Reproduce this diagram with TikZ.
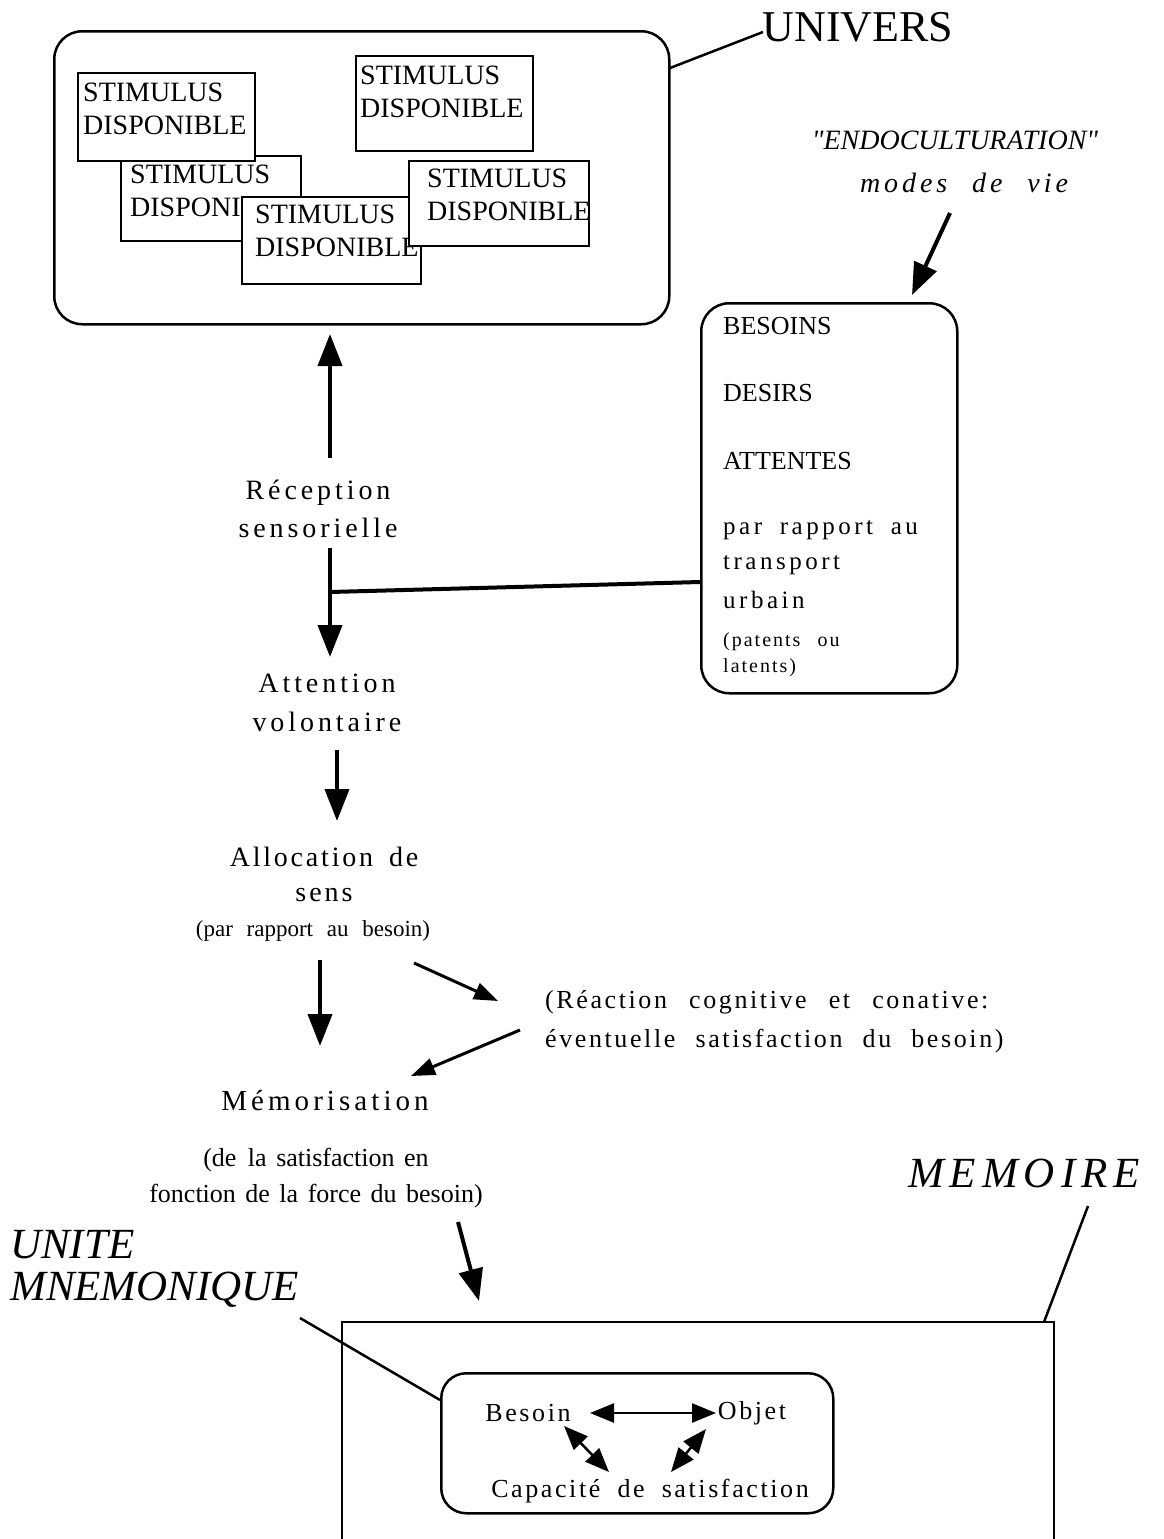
\documentclass[tikz,border=0pt]{standalone}
\usepackage{fontspec}
\setmainfont{Liberation Serif}
\newfontfamily\spc[LetterSpace=10]{Liberation Serif}
\newfontfamily\spcw[LetterSpace=14]{Liberation Serif}
\newfontfamily\qfont[Ligatures=TeXOff]{Liberation Serif}
\usetikzlibrary{arrows.meta}
\tikzset{
  rbox/.style={draw, line width=2.5pt, rounded corners=28pt, anchor=north west, inner sep=0pt},
  stim/.style={draw, fill=white, line width=2pt, anchor=north west, inner sep=0pt},
  stimtxt/.style={anchor=north west, align=left, inner sep=0pt, font=\fontsize{28}{33}\selectfont},
  bigarrow/.style={-{Triangle[length=32pt,width=24pt]}, line width=4pt},
  thinarrow/.style={-{Triangle[length=24pt,width=17pt]}, line width=3pt},
  dblarrow/.style={{Triangle[length=24pt,width=19pt]}-{Triangle[length=24pt,width=19pt]}, line width=2.5pt},
  leader/.style={line width=2.5pt},
  lbl/.style={align=center, inner sep=0pt},
}
\begin{document}
\begin{tikzpicture}[x=1pt,y=-1pt]
\useasboundingbox (0,0) rectangle (1163,1539);
\fill[white] (0,0) rectangle (1163,1539);

% UNIVERS box
\node[rbox, minimum width=615pt, minimum height=293pt] (univ) at (53,30) {};
% stimulus boxes
\node[stim, minimum width=180pt, minimum height=85pt] (s2) at (120,155) {};
\begin{scope}
\clip (120,150) -- (305,150) -- (305,196) -- (241,196) -- (241,245) -- (120,245) -- cycle;
\node[stimtxt] (s2t) at (130,165) {STIMULUS\\DISPONIBLE};
\end{scope}
\node[stim, minimum width=179pt, minimum height=87pt] (s3) at (241,196) {};
\node[stimtxt] (s3t) at (255,205) {STIMULUS\\DISPONIBLE};
\node[stim, minimum width=180pt, minimum height=85pt] (s4) at (408,160) {};
\node[stimtxt] (s4t) at (427,169) {STIMULUS\\DISPONIBLE};
\node[stim, minimum width=177pt, minimum height=88pt] (s1) at (77,72) {};
\node[stimtxt] (s1t) at (83,83) {STIMULUS\\DISPONIBLE};
\node[stim, minimum width=177pt, minimum height=95pt] (s5) at (355,55) {};
\node[stimtxt] (s5t) at (360,66) {STIMULUS\\DISPONIBLE};

\node[lbl, font=\fontsize{44}{50}\selectfont] (univtxt) at (858,27) {UNIVERS};
\coordinate (uA) at (670,68);
\coordinate (uB) at (763,32);
\draw[leader] (uA) -- (uB);

% endoculturation
\node[lbl, font=\fontsize{28}{32}\qfont\itshape] (endo) at (955,140) {"ENDOCULTURATION"};
\node[lbl, font=\fontsize{28}{32}\spcw\itshape] (modes) at (964,183) {modes\hspace{14pt} de\hspace{14pt} vie};
\coordinate (eA) at (950,213);
\coordinate (eB) at (912,295);
\draw[bigarrow] (eA) -- (eB);

% besoins box
\node[rbox, minimum width=256pt, minimum height=390pt] (bes) at (700,302) {};
\begin{scope}[every node/.style={anchor=west, inner sep=0pt}]
\node[font=\fontsize{26}{30}\selectfont] (b1) at (723,326) {BESOINS};
\node[font=\fontsize{26}{30}\selectfont] (b2) at (723,393) {DESIRS};
\node[font=\fontsize{26}{30}\selectfont] (b3) at (723,461) {ATTENTES};
\node[font=\fontsize{25}{30}\spcw] (b4) at (723,530) {par\hspace{8pt} rapport\hspace{8pt} au};
\node[font=\fontsize{25}{30}\spcw] (b5) at (723,565) {transport};
\node[font=\fontsize{25}{30}\spcw] (b6) at (723,600) {urbain};
\node[font=\fontsize{20}{24}\spc] (b7) at (723,642) {(patents\hspace{10pt} ou};
\node[font=\fontsize{20}{24}\spc] (b8) at (723,668) {latents)};
\end{scope}

% central column
\node[lbl, font=\fontsize{28}{38}\spcw] (recep) at (318,509) {Réception\\sensorielle};
\coordinate (rA) at (330,458);
\coordinate (rB) at (330,334);
\draw[bigarrow] (rA) -- (rB);
\coordinate (aA) at (330,548);
\coordinate (aB) at (330,657);
\draw[bigarrow] (aA) -- (aB);
\coordinate (jA) at (700,582);
\coordinate (jB) at (330,592);
\draw[line width=4pt] (jA) -- (jB);

\node[lbl, font=\fontsize{28}{39}\spcw] (atten) at (327,703) {Attention\\volontaire};
\coordinate (tA) at (337,750);
\coordinate (tB) at (337,821);
\draw[bigarrow] (tA) -- (tB);

\node[lbl, font=\fontsize{28}{38}\spc] (alloc) at (324,857) {Allocation\hspace{6pt} de};
\node[lbl, font=\fontsize{28}{38}\spc] (sens) at (324,895) {s\hspace{3pt}e\hspace{3pt}n\hspace{3pt}s};
\node[lbl, font=\fontsize{23}{26}\selectfont] (parrap) at (313,931) {(par\hspace{8pt} rapport\hspace{8pt} au\hspace{8pt} besoin)};
\coordinate (mA) at (320,960);
\coordinate (mB) at (320,1046);
\draw[bigarrow] (mA) -- (mB);
\coordinate (cA) at (414,963);
\coordinate (cB) at (498,1001);
\draw[thinarrow] (cA) -- (cB);

\node[anchor=west, inner sep=0pt, align=left, font=\fontsize{26}{39}\spc] (react) at (545,1022) {(Réaction\hspace{13pt} cognitive\hspace{13pt} et\hspace{13pt} conative:\\éventuelle\hspace{11pt} satisfaction\hspace{11pt} du\hspace{11pt} besoin)};
\coordinate (dA) at (520,1030);
\coordinate (dB) at (411,1076);
\draw[thinarrow] (dA) -- (dB);

\node[lbl, font=\fontsize{29}{34}\spcw] (memo) at (325,1101) {Mémorisation};
\node[lbl, font=\fontsize{26}{36}\selectfont] (desat) at (316,1178) {(de\hspace{5pt} la\hspace{3pt} satisfaction\hspace{3pt} en\\fonction\hspace{3pt} de\hspace{3pt} la\hspace{3pt} force\hspace{3pt} du\hspace{3pt} besoin)};
\coordinate (fA) at (458,1222);
\coordinate (fB) at (479,1301);
\draw[bigarrow] (fA) -- (fB);

% memoire
\node[lbl, font=\fontsize{43}{48}\spcw\itshape] (memoire) at (1024,1173) {MEMOIRE};
\draw[line width=2.5pt] (342,1560) -- (342,1322) -- (1054,1322) -- (1054,1560);
\coordinate (mmA) at (1088,1206);
\coordinate (mmB) at (1044,1322);
\draw[leader] (mmA) -- (mmB);

\node[anchor=west, inner sep=0pt, font=\fontsize{43}{48}\selectfont\itshape] (unite) at (10,1245) {UNITE};
\node[anchor=west, inner sep=0pt, font=\fontsize{43}{48}\selectfont\itshape] (mnem) at (10,1290) {MNEMONIQUE};
\node[rbox, rounded corners=25pt, minimum width=392pt, minimum height=140pt] (unit) at (440,1372) {};
\coordinate (nA) at (300,1318);
\coordinate (nB) at (440,1400);
\draw[leader] (nA) -- (nB);

\node[lbl, font=\fontsize{26}{30}\spc] (besoin) at (528,1413) {Besoin};
\node[lbl, font=\fontsize{26}{30}\spc] (objet) at (752,1413) {Objet};
\node[lbl, font=\fontsize{26}{30}\spc] (capa) at (650,1491) {Capacité\hspace{8pt} de\hspace{8pt} satisfaction};
\coordinate (bo1) at (590,1413);
\coordinate (bo2) at (716,1413);
\draw[dblarrow] (bo1) -- (bo2);
\coordinate (bc1) at (564,1426);
\coordinate (bc2) at (609,1472);
\draw[dblarrow] (bc1) -- (bc2);
\coordinate (oc1) at (706,1429);
\coordinate (oc2) at (671,1472);
\draw[dblarrow] (oc1) -- (oc2);
\end{tikzpicture}
\end{document}
